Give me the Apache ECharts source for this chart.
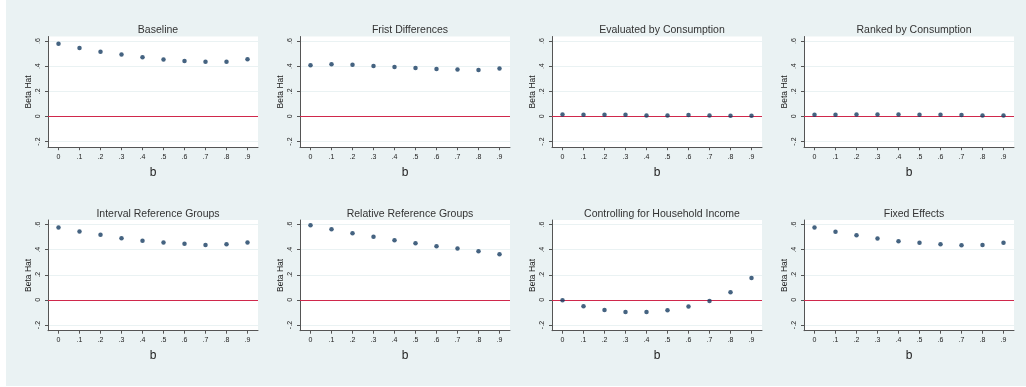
<!DOCTYPE html>
<html>
<head>
<meta charset="utf-8">
<script src="https://cdn.jsdelivr.net/npm/echarts@6/dist/echarts.min.js"></script>
<style>
html,body{margin:0;padding:0;background:#fff;}
#chart{width:1026px;height:387px;}
</style>
</head>
<body>
<div id="chart"></div>
<script>
// b values (x axis)
var bValues = [0, 0.1, 0.2, 0.3, 0.4, 0.5, 0.6, 0.7, 0.8, 0.9];
// tick values
var yTicks = [-0.2, 0, 0.2, 0.4, 0.6];
var xTicks = [0, 0.1, 0.2, 0.3, 0.4, 0.5, 0.6, 0.7, 0.8, 0.9];
// panel titles
var titles = ["Baseline", "Frist Differences", "Evaluated by Consumption", "Ranked by Consumption",
  "Interval Reference Groups", "Relative Reference Groups", "Controlling for Household Income", "Fixed Effects"];
// series values (beta hat)
var baseline = [0.579, 0.545, 0.515, 0.492, 0.470, 0.452, 0.441, 0.436, 0.436, 0.455];
var firstDiff = [0.407, 0.415, 0.412, 0.402, 0.394, 0.386, 0.378, 0.373, 0.370, 0.381];
var evalCons = [0.016, 0.013, 0.013, 0.013, 0.008, 0.008, 0.011, 0.008, 0.005, 0.005];
var rankCons = [0.013, 0.013, 0.016, 0.016, 0.016, 0.013, 0.013, 0.011, 0.008, 0.008];
var intervalRef = [0.576, 0.544, 0.518, 0.491, 0.470, 0.457, 0.446, 0.438, 0.443, 0.457];
var relativeRef = [0.595, 0.563, 0.531, 0.502, 0.475, 0.451, 0.427, 0.409, 0.388, 0.364];
var hhIncome = [-0.003, -0.050, -0.080, -0.096, -0.096, -0.082, -0.053, -0.008, 0.061, 0.175];
var fixedEff = [0.576, 0.542, 0.515, 0.489, 0.467, 0.454, 0.443, 0.435, 0.438, 0.454];

var panels = [baseline, firstDiff, evalCons, rankCons, intervalRef, relativeRef, hhIncome, fixedEff];

function stata(v) {
  var r = Math.round(v * 10) / 10;
  if (Math.abs(r) < 1e-9) return "0";
  var s = String(r);
  return s.replace("0.", ".");
}

var lefts = [48, 300, 552, 804];
var tops = [36.5, 220];
var W = 210, H = 110.7;
var axisColor = "#555";
var grids = [], xAxes = [], yAxes = [], series = [], titleArr = [];

for (var i = 0; i < 8; i++) {
  var col = i % 4, row = Math.floor(i / 4);
  grids.push({left: lefts[col], top: tops[row], width: W, height: H, show: true,
    backgroundColor: "#fff", borderWidth: 0, containLabel: false});
  titleArr.push({text: titles[i], left: lefts[col] + W / 2, top: tops[row] - 16.5, textAlign: "center",
    textStyle: {fontFamily: "Liberation Sans, Arial", fontSize: 10.5, fontWeight: "normal", color: "#333"}});
  xAxes.push({type: "value", gridIndex: i, min: -0.05, max: 0.95,
    name: "b", nameLocation: "middle", nameGap: 19,
    nameTextStyle: {fontFamily: "Liberation Sans, Arial", fontSize: 12, color: "#222"},
    axisLine: {show: true, onZero: false, lineStyle: {color: axisColor, width: 1}},
    axisTick: {show: true, length: 3, customValues: xTicks, lineStyle: {color: axisColor}},
    axisLabel: {customValues: xTicks, margin: 6, fontFamily: "Liberation Sans, Arial", fontSize: 7, color: "#222",
      formatter: function (v) { return stata(v); }},
    splitLine: {show: false}});
  yAxes.push({type: "value", gridIndex: i, min: -0.245, max: 0.636,
    name: "Beta Hat", nameLocation: "middle", nameGap: 15, nameRotate: 90,
    nameTextStyle: {fontFamily: "Liberation Sans, Arial", fontSize: 8.5, color: "#222"},
    axisLine: {show: true, onZero: false, lineStyle: {color: axisColor, width: 1}},
    axisTick: {show: true, length: 3, customValues: yTicks, lineStyle: {color: axisColor}},
    axisLabel: {customValues: yTicks, rotate: 90, margin: 6, fontFamily: "Liberation Sans, Arial", fontSize: 7, color: "#222",
      formatter: function (v) { return stata(v); }},
    splitLine: {show: true, lineStyle: {color: "#eaf2f3", width: 1}}});
  var vals = panels[i];
  series.push({type: "scatter", xAxisIndex: i, yAxisIndex: i,
    data: bValues.map(function (b, k) { return [b, vals[k]]; }),
    symbol: "circle", symbolSize: 4.5, itemStyle: {color: "#163c62"}, z: 5,
    markLine: {silent: true, symbol: ["none", "none"], label: {show: false}, animation: false,
      lineStyle: {color: "#d0284c", width: 1.2, type: "solid"}, data: [{yAxis: 0}], z: 3}});
}

var chart = echarts.init(document.getElementById("chart"), null, {renderer: "canvas"});
chart.setOption({
  animation: false,
  backgroundColor: "#fff",
  graphic: [{type: "rect", shape: {x: 6, y: 0, width: 1020, height: 386}, style: {fill: "#eaf2f3"}, z: -100, silent: true}],
  title: titleArr,
  grid: grids,
  xAxis: xAxes,
  yAxis: yAxes,
  series: series
});
</script>
</body>
</html>
